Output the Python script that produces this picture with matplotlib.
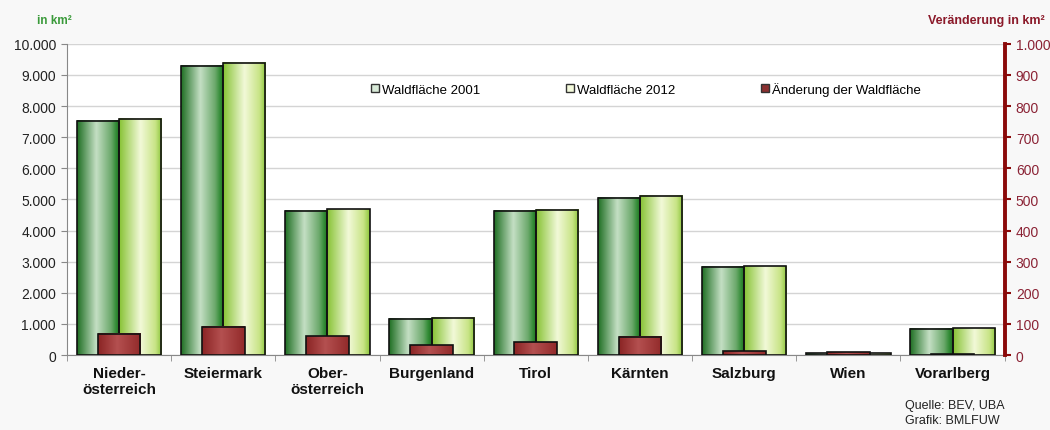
import numpy as np
import matplotlib.pyplot as plt
from matplotlib.colors import LinearSegmentedColormap
from matplotlib.patches import Patch
from matplotlib.ticker import FuncFormatter

plt.rcParams['font.family'] = ['Liberation Sans', 'DejaVu Sans']

laender = ["Nieder-\nösterreich", "Steiermark", "Ober-\nösterreich", "Burgenland",
           "Tirol", "Kärnten", "Salzburg", "Wien", "Vorarlberg"]
wald_2001 = [7530, 9290, 4630, 1160, 4630, 5050, 2840, 60, 850]
wald_2012 = [7590, 9390, 4690, 1200, 4660, 5110, 2850, 60, 855]
aenderung = [68, 91, 60, 31, 41, 59, 12, 9, 3]

cm_2001 = LinearSegmentedColormap.from_list(
    "g1", [(0, "#1e6e22"), (0.45, "#c4dfc4"), (0.8, "#6aa86a"), (0.92, "#2f8a33"), (1, "#1f6a22")])
cm_2012 = LinearSegmentedColormap.from_list(
    "g2", [(0, "#86c233"), (0.5, "#f2f9d8"), (0.85, "#c8e486"), (1, "#8cc63a")])
cm_diff = LinearSegmentedColormap.from_list(
    "r1", [(0, "#8a2424"), (0.45, "#b45050"), (1, "#922a2a")])


def de_fmt(v, pos):
    return f"{int(round(v)):,}".replace(",", ".")


def gradient_fill(ax, bars, cmap):
    grad = np.linspace(0, 1, 256).reshape(1, -1)
    for b in bars:
        x, y = b.get_x(), b.get_y()
        w, h = b.get_width(), b.get_height()
        ax.imshow(grad, cmap=cmap, extent=(x, x + w, y, y + h),
                  aspect='auto', zorder=2, interpolation='bilinear')


fig = plt.figure(figsize=(10.5, 4.31), dpi=100, facecolor='#f8f8f8')
ax = fig.add_axes([0.0638, 0.174, 0.893, 0.722])
ax2 = ax.twinx()

x = np.arange(len(laender))
bw = 0.405

b1 = ax.bar(x - bw / 2, wald_2001, bw, facecolor='none', edgecolor='#111111', lw=1.2, zorder=3)
b2 = ax.bar(x + bw / 2, wald_2012, bw, facecolor='none', edgecolor='#111111', lw=1.2, zorder=3)
gradient_fill(ax, b1, cm_2001)
gradient_fill(ax, b2, cm_2012)

b3 = ax2.bar(x, aenderung, 0.41, facecolor='none', edgecolor='#111111', lw=1.2, zorder=3)
gradient_fill(ax2, b3, cm_diff)

ax.set_xlim(-0.5, len(laender) - 0.5)
ax.set_ylim(0, 10000)
ax2.set_ylim(0, 1000)
ax.set_yticks(np.arange(0, 10001, 1000))
ax2.set_yticks(np.arange(0, 1001, 100))
ax.yaxis.set_major_formatter(FuncFormatter(de_fmt))
ax2.yaxis.set_major_formatter(FuncFormatter(de_fmt))

ax.set_axisbelow(True)
ax.grid(axis='y', color='#d4d4d4', lw=1)
ax.set_facecolor('white')

ax.set_xticks(x)
ax.set_xticklabels(laender, fontsize=11, fontweight='bold', color='#111111')
ax.tick_params(axis='x', length=0, pad=8)
ax.set_xticks(np.arange(-0.5, len(laender)), minor=True)
ax.tick_params(axis='x', which='minor', length=4, color='#888888', direction='out')
ax.tick_params(axis='y', length=4, color='#888888', labelsize=10, labelcolor='#222222', pad=4)

for s in ['top', 'right']:
    ax.spines[s].set_visible(False)
ax.spines['left'].set_color('#888888')
ax.spines['bottom'].set_color('#888888')

for s in ['top', 'left', 'bottom']:
    ax2.spines[s].set_visible(False)
ax2.spines['right'].set_color('#8b0a0a')
ax2.spines['right'].set_linewidth(2.8)
ax2.tick_params(axis='y', length=4, color='#8b0a0a', width=1.5,
                labelsize=10, labelcolor='#8b2335', pad=4)

handles = [Patch(facecolor='#d8ead8', edgecolor='#333333', lw=1),
           Patch(facecolor='#f4fadc', edgecolor='#333333', lw=1),
           Patch(facecolor='#8b3030', edgecolor='#333333', lw=1)]
ax.legend(handles, ["Waldfläche 2001", "Waldfläche 2012", "Änderung der Waldfläche"],
          loc='center left', bbox_to_anchor=(0.324, 0.855), ncol=3, frameon=False,
          fontsize=9.5, handlelength=0.6, handleheight=0.6, handletextpad=0.25,
          columnspacing=6.5, borderaxespad=0, borderpad=0)

fig.text(0.052, 0.952, "in km²", color='#3a9a3a', fontsize=8.5, fontweight='bold', ha='center', va='center')
fig.text(0.995, 0.952, "Veränderung in km²", color='#8b1a2a', fontsize=9, fontweight='bold', ha='right', va='center')
fig.text(0.862, 0.04, "Quelle: BEV, UBA\nGrafik: BMLFUW", fontsize=9, color='#222222', ha='left', va='center', linespacing=1.3)

fig.savefig("out.png", dpi=100, facecolor=fig.get_facecolor())
